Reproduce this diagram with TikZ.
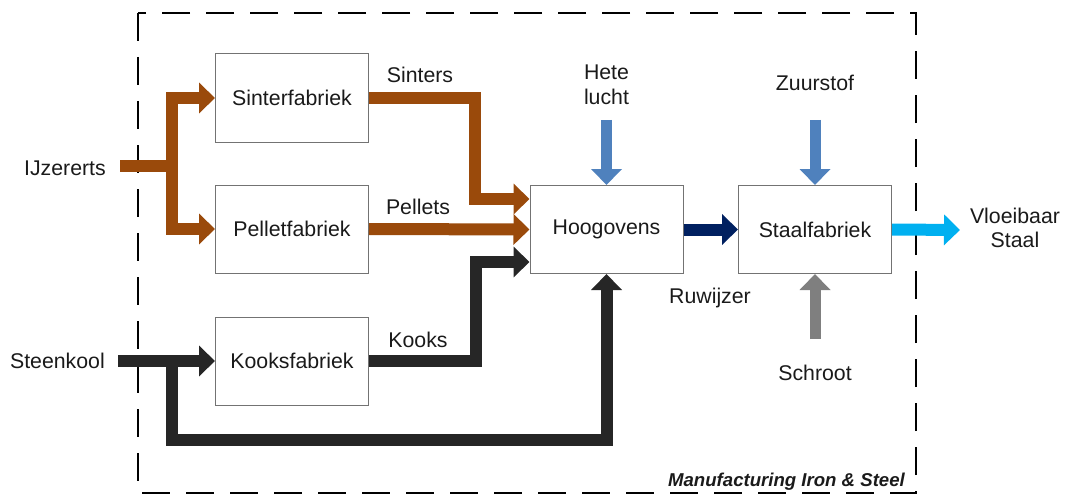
\documentclass[tikz,border=0pt]{standalone}
\usepackage{fontspec}
\setmainfont{Liberation Sans}
\usetikzlibrary{arrows.meta}
\definecolor{ore}{HTML}{9A4A0B}
\definecolor{coal}{HTML}{262626}
\definecolor{air}{HTML}{4F81BD}
\definecolor{pigiron}{HTML}{002060}
\definecolor{steel}{HTML}{00B0F0}
\definecolor{scrap}{HTML}{7F7F7F}
\definecolor{txt}{HTML}{1A1A1A}
\begin{document}
\begin{tikzpicture}[x=1pt,y=-1pt,
  every node/.style={text=txt,font=\fontsize{21.3}{24.5}\selectfont},
  plant/.style={draw=black!55,line width=1pt,fill=white,minimum width=153pt,minimum height=88pt,inner sep=0pt},
  lbl/.style={inner sep=0pt,align=center},
  flow/.style={line width=12pt,line join=miter},
  head/.style={-{Triangle[length=16pt,width=30pt]}},
  frame/.style={line width=1.6pt,dash pattern=on 28pt off 16pt}]
\useasboundingbox (0,0) rectangle (1072,495);

% system boundary
\draw[frame] (138,13) rectangle (916,493);
\node[lbl,anchor=east,font=\fontsize{18.6}{21}\selectfont\bfseries\itshape] (title) at (905,482) {Manufacturing Iron \& Steel};

% plants
\node[plant] (sinter) at (292,98) {Sinterfabriek};
\node[plant] (pellet) at (292,229) {Pelletfabriek};
\node[plant] (kooks) at (292,361) {Kooksfabriek};
\node[plant] (hoog) at (606.5,229.5) {Hoogovens};
\node[plant] (staal) at (815,229.5) {Staalfabriek};

% external inputs and outputs
\node[lbl,anchor=east] (ijz) at (106,168) {IJzererts};
\node[lbl,anchor=east] (steen) at (105,361) {Steenkool};
\node[lbl] (hete) at (606.5,85) {Hete\\lucht};
\node[lbl] (zuur) at (815,83) {Zuurstof};
\node[lbl] (schroot) at (815,373) {Schroot};
\node[lbl] (vloei) at (1015,228) {Vloeibaar\\Staal};

% flow labels
\node[lbl] (lsint) at (420,75) {Sinters};
\node[lbl] (lpell) at (418,207) {Pellets};
\node[lbl] (lkook) at (418,340) {Kooks};
\node[lbl] (lruw) at (710,298) {Ruwijzer};

% connector points
\coordinate (ijin) at (120,166);
\coordinate (ijsplit) at (172,166);
\coordinate (sbend) at (475,199);
\coordinate (kbend) at (476,262);
\coordinate (skin) at (118,361);
\coordinate (sksplit) at (172,361);
\coordinate (skbottom) at (172,440);
\coordinate (hlin) at (606.5,120);
\coordinate (zin) at (815,120);
\coordinate (schin) at (815,339);
\coordinate (out) at (960,230);

% iron ore route
\draw[flow,ore] (ijin) -- (ijsplit);
\draw[flow,ore,head] (ijsplit) |- (sinter.west);
\draw[flow,ore,head] (ijsplit) |- (pellet.west);
\draw[flow,ore,head] (sinter.east) -| (sbend) -- (sbend -| hoog.west);
\draw[flow,ore,head] (pellet.east) -- (hoog.west);

% coal route
\draw[flow,coal,head] (skin) -- (kooks.west);
\draw[flow,coal,head] (kooks.east) -| (kbend) -- (kbend -| hoog.west);
\draw[flow,coal,head] (sksplit) -- (skbottom) -| (hoog.south);

% other inputs
\draw[flow,air,line width=11pt,head] (hlin) -- (hoog.north);
\draw[flow,air,line width=11pt,head] (zin) -- (staal.north);
\draw[flow,scrap,line width=11pt,head] (schin) -- (staal.south);

% products
\draw[flow,pigiron,head] (hoog.east) -- (staal.west);
\draw[flow,steel,head] (staal.east) -- (out);
\end{tikzpicture}
\end{document}
